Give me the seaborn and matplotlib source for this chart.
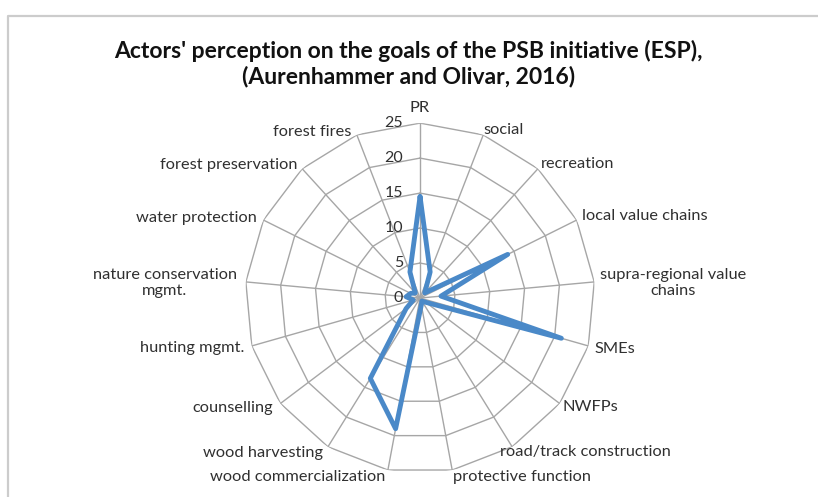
import numpy as np
import pandas as pd
import matplotlib
matplotlib.use("Agg")
import matplotlib.pyplot as plt
from matplotlib.lines import Line2D
import seaborn as sns

# goals and how often the actors named them
goals = ["PR", "social", "recreation", "local value chains",
         "supra-regional value\nchains", "SMEs", "NWFPs",
         "road/track construction", "protective function",
         "wood commercialization", "wood harvesting", "counselling",
         "hunting mgmt.", "nature conservation\nmgmt.", "water protection",
         "forest preservation", "forest fires"]
counts = [14.5, 4, 1, 14, 3, 21, 1, 0.5, 1, 19, 13.5, 2.5, 1, 2, 1.5, 1, 4]
rings = [0, 5, 10, 15, 20, 25]

sns.set_theme(style="white")
plt.rcParams["font.family"] = ["Lato", "DejaVu Sans"]

n = len(goals)
theta = np.linspace(0, 2 * np.pi, n, endpoint=False)
df = pd.DataFrame({"theta": np.append(theta, 2 * np.pi),
                   "count": counts + counts[:1]})

fig = plt.figure(figsize=(8.18, 4.97), dpi=100)
ax = fig.add_axes([0.2995, 0.0483, 0.428, 0.704], projection="polar")
ax.set_theta_zero_location("N")
ax.set_theta_direction(-1)
ax.set_ylim(0, 25)
ax.grid(False)
ax.spines["polar"].set_visible(False)
ax.set_xticks([])
ax.set_yticks([])
ax.patch.set_alpha(0)

grid_col = "#A6A6A6"
# polygon rings
closed = np.append(theta, theta[0])
for r in rings[1:]:
    ax.plot(closed, [r] * (n + 1), color=grid_col, lw=1, zorder=1)
# spokes
for t in theta:
    ax.plot([t, t], [0, 25], color=grid_col, lw=1, zorder=1)

sns.lineplot(data=df, x="theta", y="count", sort=False, estimator=None,
             color="#4A89C8", lw=3.5, ax=ax, zorder=3)
ax.set_xlabel("")
ax.set_ylabel("")

txt_col = "#303030"
# radial tick labels along the PR spoke
for r in rings:
    ax.annotate(str(r), xy=(0, r), xytext=(-17, 0), textcoords="offset pixels",
                ha="right", va="center", fontsize=11.5, color=txt_col)

# category labels: offsets from the outer vertex, in pixels
offs = [(0, 15, "center"), (0, 5, "left"), (3, 5, "left"), (5, 4, "left"),
        (6, -1, "left"), (6, -3, "left"), (3, -4, "left"), (-12, -5, "left"),
        (1, -7, "left"), (-3, -7, "right"), (-5, -6, "right"),
        (-7, -5, "right"), (-7, -2, "right"), (-9, -1, "right"),
        (-7, 2, "right"), (-5, 4, "right"), (-5, 3, "right")]
for t, g, (dx, dy, ha) in zip(theta, goals, offs):
    ax.annotate(g, xy=(t, 25), xytext=(dx, dy), textcoords="offset pixels",
                ha=ha, va="center", multialignment="center",
                fontsize=11.8, color=txt_col, annotation_clip=False)

fig.text(0.499, 0.872, "Actors' perception on the goals of the PSB initiative (ESP),\n"
         "(Aurenhammer and Olivar, 2016)", ha="center", va="center",
         fontsize=16.5, fontweight="bold", color="#111111", linespacing=1.18)

# chart area border (only top and left are inside the picture)
fig.add_artist(Line2D([8 / 818, 8 / 818, 1], [0, 1 - 16 / 497, 1 - 16 / 497],
                      transform=fig.transFigure, color="#CCCCCC", lw=1.6))

fig.savefig("out.png", dpi=100)
